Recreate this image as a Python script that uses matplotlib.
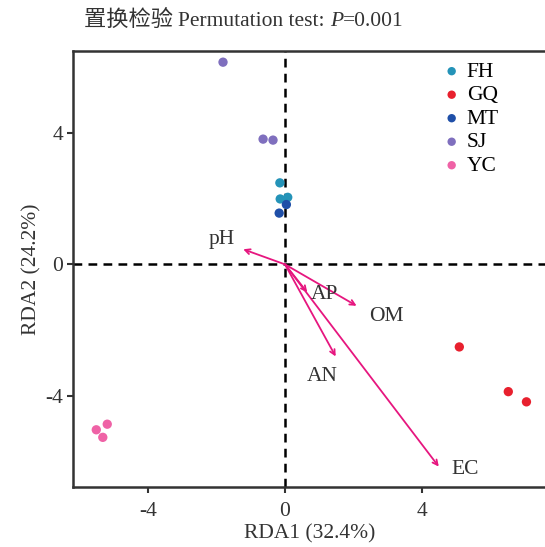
import matplotlib
matplotlib.use("Agg")
import numpy as np
from matplotlib import pyplot as plt

plt.rcParams['font.family'] = ['Liberation Serif', 'Noto Sans CJK SC', 'DejaVu Sans']
plt.rcParams['axes.unicode_minus'] = False

# sample scores per group (RDA1, RDA2)
groups = ["FH", "GQ", "MT", "SJ", "YC"]
colors = ["#2493b8", "#e8202e", "#1f4fa8", "#7f6fbe", "#ef62a6"]
fh_x = [-0.15, -0.14, 0.08]
fh_y = [2.48, 1.99, 2.04]
gq_x = [5.09, 6.52, 7.05]
gq_y = [-2.51, -3.87, -4.18]
mt_x = [0.04, -0.17]
mt_y = [1.82, 1.56]
sj_x = [-1.81, -0.64, -0.35]
sj_y = [6.15, 3.81, 3.78]
yc_x = [-5.51, -5.19, -5.32]
yc_y = [-5.03, -4.86, -5.26]

# environmental vectors
env_names = ["pH", "AP", "OM", "AN", "EC"]
env_x = [-1.22, 0.65, 2.09, 1.48, 4.49]
env_y = [0.46, -0.85, -1.26, -2.80, -6.15]
lab_x = [-1.85, 1.15, 2.95, 1.1, 5.25]
lab_y = [0.75, -0.93, -1.57, -3.42, -6.25]

xs = [fh_x, gq_x, mt_x, sj_x, yc_x]
ys = [fh_y, gq_y, mt_y, sj_y, yc_y]

fs = 15.5
txt_col = '#333333'

fig = plt.figure(figsize=(5.45, 5.47), dpi=100)
ax = fig.add_axes([73 / 545, 1 - 487 / 547, (547 - 73) / 545, (487 - 51) / 547])

ax.axhline(0, color='black', ls=(0, (3.5, 2.5)), lw=1.8, zorder=1)
ax.axvline(0, color='black', ls=(0, (3.5, 2.5)), lw=1.8, zorder=1)

for g, c, x, y in zip(groups, colors, xs, ys):
    ax.scatter(x, y, s=45, color=c, label=g, zorder=3, edgecolors='none')

arrow_col = "#e6167f"
for n, ex, ey, lx, ly in zip(env_names, env_x, env_y, lab_x, lab_y):
    ax.annotate("", xy=(ex, ey), xytext=(0, 0),
                arrowprops=dict(arrowstyle='->', color=arrow_col, lw=1.3,
                                mutation_scale=9, shrinkA=0, shrinkB=0),
                zorder=2)
    ax.text(lx, ly, n, fontsize=fs, color=txt_col, ha='center', va='center')

ax.set_xlim(-6.19, 7.65)
ax.set_ylim(-6.77, 6.49)
ax.set_xticks([-4, 0, 4])
ax.set_yticks([-4, 0, 4])
ax.tick_params(labelsize=fs, colors=txt_col, length=4, width=1.5)
ax.tick_params(axis='x', pad=7)
ax.tick_params(axis='y', pad=3)
for s in ax.spines.values():
    s.set_linewidth(1.8)
    s.set_color(txt_col)

ax.set_xlabel("RDA1 (32.4%)", fontsize=fs, color=txt_col, labelpad=2)
ax.set_ylabel("RDA2 (24.2%)", fontsize=fs, color=txt_col, labelpad=3)

# title built from pieces: CJK part, plain part, italic P, value
t1 = fig.text(84 / 545, 1 - 26 / 547, "置换检验 ", fontsize=fs + 0.5, color=txt_col,
              ha='left', va='baseline', family=['Noto Sans CJK SC'])
t2 = ax.annotate("Permutation test: ", xy=(1, 0), xycoords=t1, fontsize=fs,
                 color=txt_col, ha='left', va='bottom')
t3 = ax.annotate("P", xy=(1, 0), xycoords=t2, fontsize=fs, style='italic',
                 color=txt_col, ha='left', va='bottom')
ax.annotate("=0.001", xy=(1, 0), xycoords=t3, fontsize=fs,
            color=txt_col, ha='left', va='bottom')

ax.legend(loc='upper left', bbox_to_anchor=(0.758, 1.0), frameon=False,
          fontsize=fs, handlelength=0.8, handletextpad=0.3, labelspacing=0.16,
          markerscale=0.9, borderaxespad=0.1)

fig.savefig("out.png", dpi=100)
